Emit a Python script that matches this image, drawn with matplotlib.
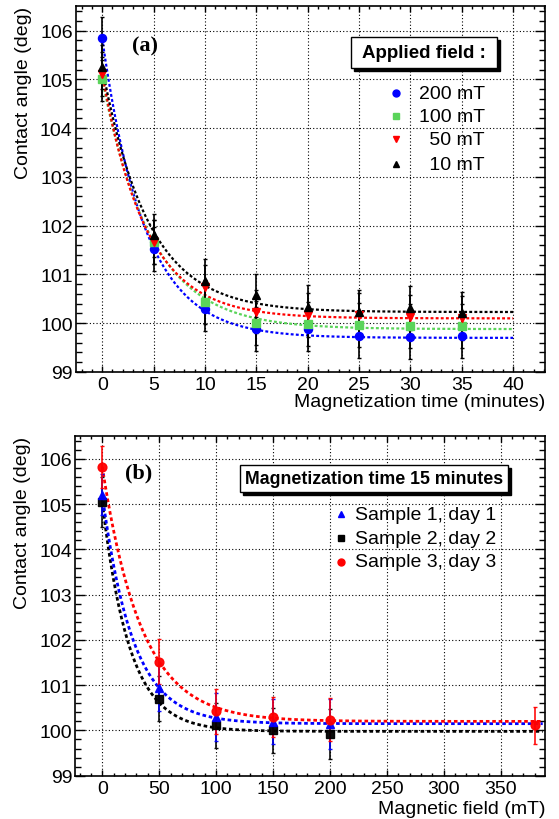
import numpy as np
import matplotlib
matplotlib.use("Agg")
import matplotlib.pyplot as plt
from matplotlib.patches import Rectangle
from matplotlib.ticker import MultipleLocator

plt.rcParams['font.family'] = ['Liberation Sans', 'DejaVu Sans']

# ---------------- data: panel (a) ----------------
time_min = [0, 5, 10, 15, 20, 25, 30, 35]
angle_200mT = [105.84, 101.52, 100.29, 99.89, 99.88, 99.74, 99.72, 99.74]
angle_100mT = [105.01, 101.67, 100.43, 100.00, 99.98, 99.97, 99.95, 99.94]
angle_50mT = [105.12, 101.66, 100.74, 100.24, 100.17, 100.17, 100.12, 100.10]
angle_10mT = [105.25, 101.80, 100.87, 100.57, 100.33, 100.24, 100.31, 100.20]
err_a = [0.45] * 8
labels_a = ["200 mT", "100 mT", " 50 mT", " 10 mT"]
# exponential fit parameters: (asymptote, amplitude, tau)
fit_a = {
    "200": (99.70, 6.14, 4.16),
    "100": (99.88, 5.13, 4.76),
    "50": (100.10, 5.02, 4.26),
    "10": (100.23, 5.02, 4.5),
}

# ---------------- data: panel (b) ----------------
field_mT = [0, 50, 100, 150, 200]
angle_s1 = [105.21, 100.94, 100.30, 100.19, 100.15]
angle_s2 = [105.04, 100.70, 100.11, 100.00, 99.93]
field_s3 = [0, 50, 100, 150, 200, 380]
angle_s3 = [105.82, 101.52, 100.42, 100.30, 100.24, 100.11]
err_s1 = [0.45, 0.5, 0.53, 0.5, 0.55]
err_s2 = [0.55, 0.5, 0.5, 0.5, 0.55]
err_s3 = [0.46, 0.5, 0.5, 0.45, 0.48, 0.4]
labels_b = ["Sample 1, day 1", "Sample 2, day 2", "Sample 3, day 3"]
fit_b = {
    "s1": (100.15, 5.06, 26.9),
    "s2": (99.98, 5.06, 24.0),
    "s3": (100.20, 5.62, 34.5),
}

BLUE = "#0000ff"
GREEN = "#5ad45a"
RED = "#ff0000"
BLACK = "#000000"

W, H = 559, 820
fig = plt.figure(figsize=(W / 100, H / 100), dpi=100)

def frac_axes(left, right, top, bottom):
    return fig.add_axes([left / W, 1 - bottom / H, (right - left) / W, (bottom - top) / H])

ax1 = frac_axes(75.5, 545, 7.3, 373)
ax2 = frac_axes(75, 545, 437.3, 776.7)

FS = 14

def style_axes(ax, xmaj, xmin_, xlim):
    ax.set_xlim(*xlim)
    ax.set_ylim(99, 106.5)
    ax.xaxis.set_major_locator(MultipleLocator(xmaj))
    ax.xaxis.set_minor_locator(MultipleLocator(xmin_))
    ax.yaxis.set_major_locator(MultipleLocator(1))
    ax.yaxis.set_minor_locator(MultipleLocator(0.2))
    ax.tick_params(axis='both', which='both', direction='in', top=True, right=True,
                   labelsize=FS, width=1.0)
    ax.tick_params(axis='y', which='major', length=7)
    ax.tick_params(axis='y', which='minor', length=4)
    ax.tick_params(axis='x', which='major', length=4)
    ax.tick_params(axis='x', which='minor', length=2.5)
    ax.tick_params(axis='x', pad=3)
    ax.tick_params(axis='y', pad=2)
    ax.grid(True, which='major', color='black', linestyle=(0, (1, 2)), linewidth=0.8)
    for s in ax.spines.values():
        s.set_linewidth(1.2)
    ax.set_ylabel("Contact angle (deg)", fontsize=FS, loc='top', labelpad=6)

style_axes(ax1, 5, 1, (-2.6, 43.1))
style_axes(ax2, 50, 10, (-24, 389))

fit_ls = (0, (1.3, 1.0))

# ---- panel (a)
series_a = [(angle_200mT, BLUE, 'o', "200"), (angle_100mT, GREEN, 's', "100"),
            (angle_50mT, RED, 'v', "50"), (angle_10mT, BLACK, '^', "10")]
tt = np.linspace(0, 40, 400)
for vals, col, mk, key in series_a:
    a, b, tau = fit_a[key]
    ax1.plot(tt, a + b * np.exp(-tt / tau), color=col, linestyle=fit_ls, linewidth=1.6, zorder=2)
for vals, col, mk, key in series_a:
    ax1.errorbar(time_min, vals, yerr=err_a, fmt=mk, color=col, ecolor='black',
                 elinewidth=1.2, capsize=1.5, capthick=1.0, markersize=5.8, zorder=3)
ax1.set_xlabel("Magnetization time (minutes)", fontsize=FS, loc='right', labelpad=0)
ax1.text(0.148, 0.892, "(a)", transform=ax1.transAxes, fontsize=16, fontweight='bold',
         family='Liberation Serif', ha='center', va='center')

def shadow_box(ax, x0, x1, y0, y1, text, fs):
    dx = 3.0 / ax.get_window_extent().width
    dy = 3.0 / ax.get_window_extent().height
    ax.add_patch(Rectangle((x0 + dx, y0 - dy), x1 - x0, y1 - y0, transform=ax.transAxes,
                           facecolor='black', edgecolor='black', zorder=5))
    ax.add_patch(Rectangle((x0, y0), x1 - x0, y1 - y0, transform=ax.transAxes,
                           facecolor='white', edgecolor='black', linewidth=1.0, zorder=6))
    ax.text((x0 + x1) / 2, (y0 + y1) / 2, text, transform=ax.transAxes, fontsize=fs,
            fontweight='bold', ha='center', va='center', zorder=7)

shadow_box(ax1, 0.586, 0.897, 0.831, 0.915, "Applied field :", 13.5)
rows_a = [0.762, 0.699, 0.637, 0.568]
for (vals, col, mk, key), lab, yy in zip(series_a, labels_a, rows_a):
    ax1.plot([0.683], [yy], marker=mk, color=col, markersize=5.0, transform=ax1.transAxes,
             linestyle='none', zorder=7)
    ax1.text(0.872, yy, lab, transform=ax1.transAxes, fontsize=FS, ha='right', va='center',
             zorder=7)

# ---- panel (b)
ff = np.linspace(0, 387, 800)
series_b = [(field_mT, angle_s2, err_s2, BLACK, 's', "s2"),
            (field_mT, angle_s1, err_s1, BLUE, '^', "s1"),
            (field_s3, angle_s3, err_s3, RED, 'o', "s3")]
for xs, vals, e, col, mk, key in series_b:
    a, b, tau = fit_b[key]
    ax2.plot(ff, a + b * np.exp(-ff / tau), color=col, linestyle=fit_ls, linewidth=2.0, zorder=2)
for xs, vals, e, col, mk, key in series_b:
    ax2.errorbar(xs, vals, yerr=e, fmt=mk, color=col, ecolor=col, elinewidth=1.2,
                 capsize=1.5, capthick=1.0, markersize=6.3, zorder=3, alpha=0.95)
ax2.set_xlabel("Magnetic field (mT)", fontsize=FS, loc='right', labelpad=2)
ax2.text(0.136, 0.894, "(b)", transform=ax2.transAxes, fontsize=16, fontweight='bold',
         family='Liberation Serif', ha='center', va='center')
shadow_box(ax2, 0.350, 0.922, 0.835, 0.915, "Magnetization time 15 minutes", 12.8)
leg_b = [(BLUE, '^'), (BLACK, 's'), (RED, 'o')]
rows_b = [0.771, 0.699, 0.631]
for (col, mk), lab, yy in zip(leg_b, labels_b, rows_b):
    ax2.plot([0.567], [yy], marker=mk, color=col, markersize=5.0, transform=ax2.transAxes,
             linestyle='none', zorder=7)
    ax2.text(0.596, yy, lab, transform=ax2.transAxes, fontsize=FS, ha='left', va='center',
             zorder=7)

fig.savefig("out.png", dpi=100)
